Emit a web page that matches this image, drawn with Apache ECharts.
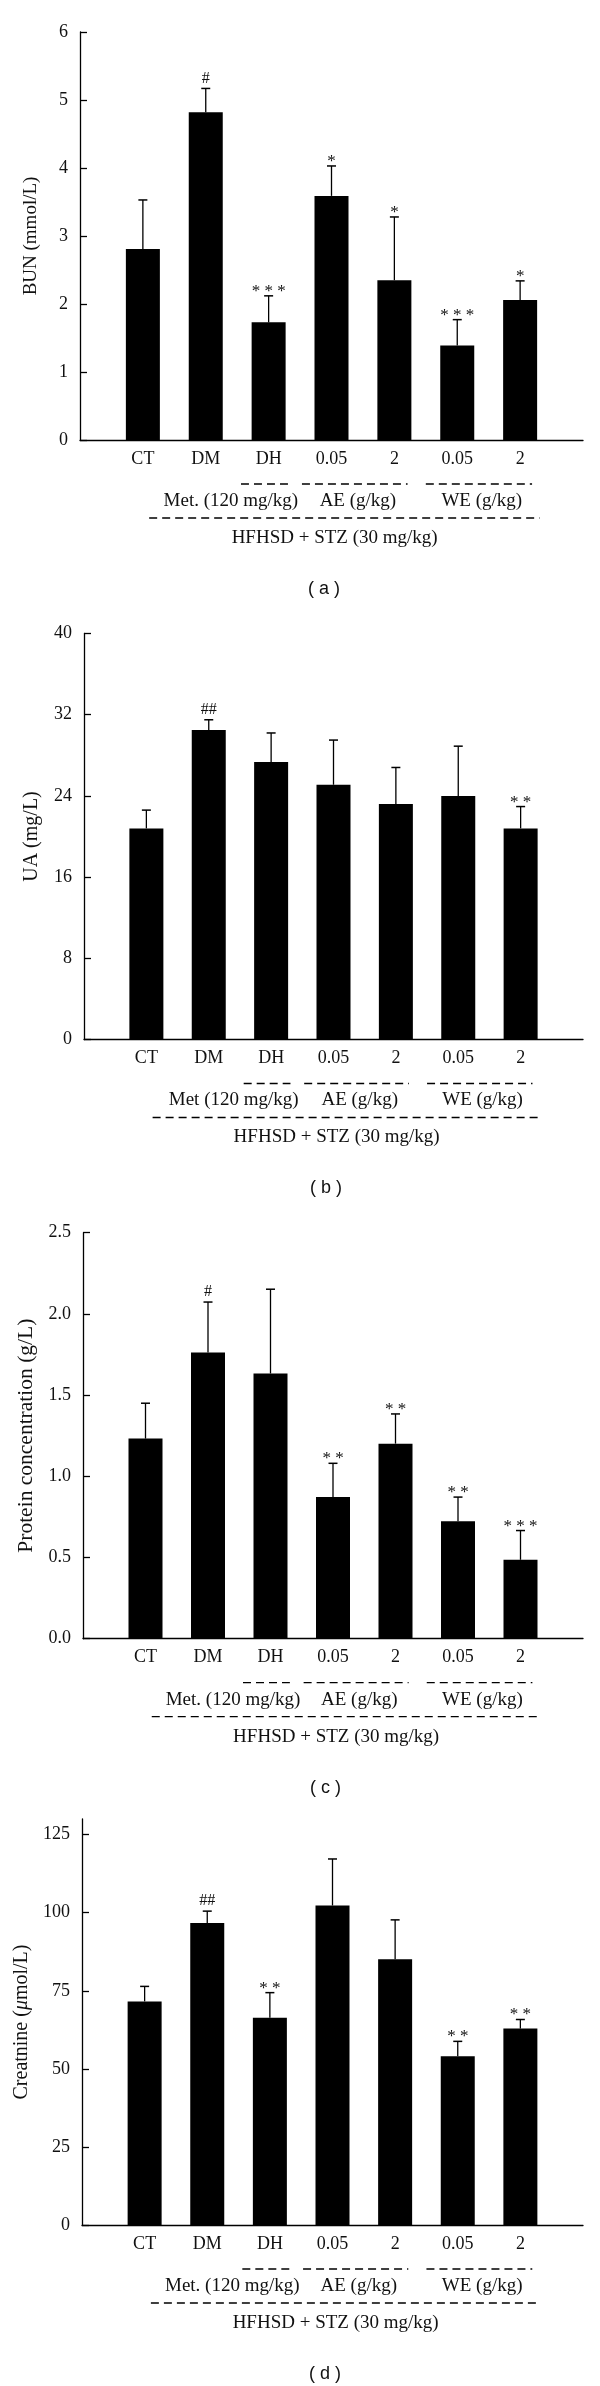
<!DOCTYPE html>
<html>
<head>
<meta charset="utf-8">
<script src="https://cdn.jsdelivr.net/npm/echarts@6/dist/echarts.min.js"></script>
<style>
html,body{margin:0;padding:0;background:#fff;}
#chart{width:600px;height:2386px;}
</style>
</head>
<body>
<div id="chart"></div>
<script>
// ---------- data ----------
const categories = ['CT', 'DM', 'DH', '0.05', '2', '0.05', '2'];

const bunMean = [2.81, 4.82, 1.73, 3.59, 2.35, 1.39, 2.06];
const bunSD   = [0.72, 0.35, 0.39, 0.44, 0.93, 0.38, 0.28];
const bunSig  = ['', '#', '***', '*', '*', '***', '*'];

const uaMean = [20.8, 30.5, 27.35, 25.1, 23.2, 24.0, 20.8];
const uaSD   = [1.8, 1.0, 2.85, 4.4, 3.6, 4.9, 2.15];
const uaSig  = ['', '##', '', '', '', '', '**'];

const protMean = [1.232, 1.763, 1.633, 0.872, 1.201, 0.723, 0.486];
const protSD   = [0.218, 0.31, 0.519, 0.208, 0.183, 0.149, 0.18];
const protSig  = ['', '#', '', '**', '**', '**', '***'];

const creatMean = [71.6, 96.7, 66.4, 102.3, 85.1, 54.0, 62.9];
const creatSD   = [4.8, 3.8, 8.0, 14.9, 12.6, 4.8, 2.9];
const creatSig  = ['', '##', '**', '', '', '**', '**'];

const groupNamesDot   = ['Met. (120 mg/kg)', 'AE (g/kg)', 'WE (g/kg)'];
const groupNamesNoDot = ['Met (120 mg/kg)', 'AE (g/kg)', 'WE (g/kg)'];
const cohortLabel = 'HFHSD + STZ (30 mg/kg)';

const bunTicks   = [0, 1, 2, 3, 4, 5, 6];
const uaTicks    = [0, 8, 16, 24, 32, 40];
const protTicks  = [0, 0.5, 1.0, 1.5, 2.0, 2.5];
const creatTicks = [0, 25, 50, 75, 100, 125];

// ---------- layout / style ----------
const SERIF = 'Liberation Serif';
const SANS = 'Liberation Sans';
const INK = '#111';

// group bracket layout (in category units; category i sits at i+1)
const groupLineSpans = [[2.56, 3.31], [3.53, 5.21], [5.50, 7.19]];
const groupLabelCenters = [2.40, 4.42, 6.39];
const cohortSpan = [1.10, 7.31];
const cohortCenter = 4.05;
const captionCenter = 3.88;

const panels = [
  { letter: 'a', mean: bunMean, sd: bunSD, sig: bunSig, ticks: bunTicks,
    name: 'BUN (mmol/L)', nameSize: 19, nameGap: 39,
    min: 0, max: 6, interval: 1, fmt: v => String(v),
    grid: { left: 80, top: 32, height: 408 }, groups: groupNamesDot },
  { letter: 'b', mean: uaMean, sd: uaSD, sig: uaSig, ticks: uaTicks,
    name: 'UA (mg/L)', nameSize: 20, nameGap: 42,
    min: 0, max: 40, interval: 8, fmt: v => String(v),
    grid: { left: 84, top: 633.5, height: 406 }, groups: groupNamesNoDot },
  { letter: 'c', mean: protMean, sd: protSD, sig: protSig, ticks: protTicks,
    name: 'Protein concentration (g/L)', nameSize: 21.5, nameGap: 40,
    min: 0, max: 2.5, interval: 0.5, fmt: v => v.toFixed(1),
    grid: { left: 83, top: 1232.7, height: 406 }, groups: groupNamesDot },
  { letter: 'd', mean: creatMean, sd: creatSD, sig: creatSig, ticks: creatTicks,
    name: 'Creatnine ({i|μ}mol/L)', nameSize: 20, nameGap: 40,
    min: 0, max: 130, interval: 25, fmt: v => String(v),
    grid: { left: 82, top: 1819, height: 406 }, groups: groupNamesDot }
];

const chart = echarts.init(document.getElementById('chart'), null, { renderer: 'canvas' });

const grids = [], xAxes = [], yAxes = [], series = [];

panels.forEach((p, k) => {
  grids.push({ left: p.grid.left, top: p.grid.top, height: p.grid.height, right: 17, containLabel: false });
  xAxes.push({
    type: 'value', gridIndex: k, min: 0, max: 8, interval: 1,
    axisLine: { show: true, onZero: false, lineStyle: { color: '#000', width: 1.3 } },
    axisTick: { show: false },
    splitLine: { show: false },
    axisLabel: {
      margin: 10, fontFamily: SERIF, fontSize: 18, color: INK,
      formatter: v => categories[v - 1] || ''
    }
  });
  yAxes.push({
    type: 'value', gridIndex: k, min: p.min, max: p.max, interval: p.interval,
    name: p.name, nameLocation: 'middle', nameGap: p.nameGap,
    nameTextStyle: {
      fontFamily: SERIF, fontSize: p.nameSize, color: INK,
      rich: { i: { fontFamily: SERIF, fontSize: p.nameSize, fontStyle: 'italic', color: INK } }
    },
    axisLine: { show: true, lineStyle: { color: '#000', width: 1.3 } },
    axisTick: { show: true, inside: true, length: 7, lineStyle: { color: '#000', width: 1.3 }, customValues: p.ticks },
    splitLine: { show: false },
    axisLabel: { margin: 12, fontFamily: SERIF, fontSize: 18, color: INK, formatter: p.fmt, customValues: p.ticks }
  });

  // bars
  series.push({
    type: 'bar', xAxisIndex: k, yAxisIndex: k, barWidth: 34,
    itemStyle: { color: '#000' },
    data: p.mean.map((m, i) => [i + 1, m]),
    silent: true, animation: false
  });

  // error bars + significance marks
  series.push({
    type: 'custom', xAxisIndex: k, yAxisIndex: k, clip: false, animation: false, silent: true,
    data: p.mean.map((m, i) => [i + 1, m, m + p.sd[i], i]),
    renderItem: (params, api) => {
      const x = api.value(0), m = api.value(1), t = api.value(2), idx = api.value(3);
      const p0 = api.coord([x, m]);
      const p1 = api.coord([x, t]);
      const children = [
        { type: 'line', shape: { x1: p0[0], y1: p0[1], x2: p1[0], y2: p1[1] },
          style: { stroke: '#000', lineWidth: 1.3 } },
        { type: 'line', shape: { x1: p1[0] - 4.5, y1: p1[1], x2: p1[0] + 4.5, y2: p1[1] },
          style: { stroke: '#000', lineWidth: 1.5 } }
      ];
      const s = p.sig[idx];
      if (s) {
        const isStar = s.indexOf('*') >= 0;
        children.push({
          type: 'text',
          style: {
            text: isStar ? s.split('').join(' ') : s,
            x: p1[0], y: p1[1] + (isStar ? 4 : -2),
            align: 'center', verticalAlign: 'bottom',
            fontFamily: SERIF, fontSize: isStar ? 17 : 16, fill: INK
          }
        });
      }
      return { type: 'group', children };
    }
  });

  // group brackets, group labels, cohort label, caption
  series.push({
    type: 'custom', xAxisIndex: k, yAxisIndex: k, clip: false, animation: false, silent: true,
    data: [[0, 0]],
    renderItem: (params, api) => {
      const base = api.coord([0, 0])[1];
      const X = u => api.coord([u, 0])[0];
      const children = [];
      const dash = { stroke: '#000', lineWidth: 1.3, lineDash: [8, 5] };
      groupLineSpans.forEach(sp => {
        children.push({ type: 'line', shape: { x1: X(sp[0]), y1: base + 44, x2: X(sp[1]), y2: base + 44 }, style: dash });
      });
      p.groups.forEach((g, i) => {
        children.push({ type: 'text', style: { text: g, x: X(groupLabelCenters[i]), y: base + 61,
          align: 'center', verticalAlign: 'middle', fontFamily: SERIF, fontSize: 19, fill: INK } });
      });
      children.push({ type: 'line', shape: { x1: X(cohortSpan[0]), y1: base + 78, x2: X(cohortSpan[1]), y2: base + 78 }, style: dash });
      children.push({ type: 'text', style: { text: cohortLabel, x: X(cohortCenter), y: base + 98,
        align: 'center', verticalAlign: 'middle', fontFamily: SERIF, fontSize: 19, fill: INK } });
      children.push({ type: 'text', style: { text: '( ' + p.letter + ' )', x: X(captionCenter), y: base + 149,
        align: 'center', verticalAlign: 'middle', fontFamily: SANS, fontSize: 18, fill: INK } });
      return { type: 'group', children };
    }
  });
});

chart.setOption({
  backgroundColor: '#fff',
  animation: false,
  grid: grids,
  xAxis: xAxes,
  yAxis: yAxes,
  series: series
});
</script>
</body>
</html>
